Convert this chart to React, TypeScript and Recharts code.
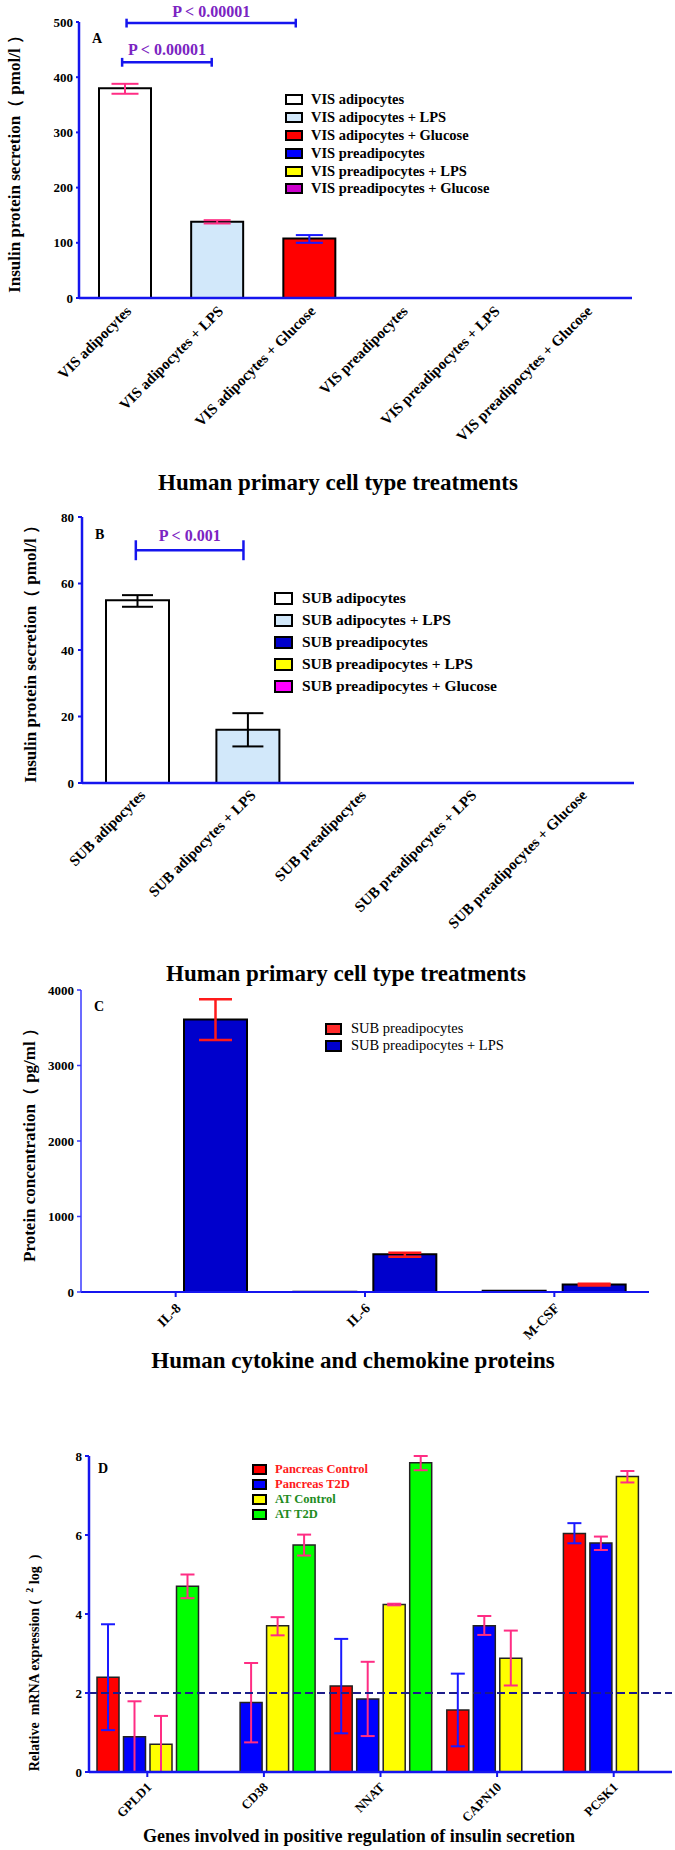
import React from 'react'
import { BarChart, Bar, XAxis, YAxis, Cell, ErrorBar, ReferenceLine, Legend } from 'recharts'

const SERIF = "'Liberation Serif', 'Times New Roman', Times, serif"
const AXIS_BLUE = '#1515ee'
const PINK = '#ff2d84'
const ERR_BLUE = '#1a1aff'
const PURPLE = '#7b24c2'

// ---- A: visceral cells, insulin secretion (pmol/l)
const visGroups = [
  'VIS adipocytes',
  'VIS adipocytes + LPS',
  'VIS adipocytes + Glucose',
  'VIS preadipocytes',
  'VIS preadipocytes + LPS',
  'VIS preadipocytes + Glucose',
]
const visInsulin = [380, 138, 108, 0, 0, 0]
const visErrPink = [[10, 8], [3, 3], null, null, null, null]
const visErrBlue = [null, null, [8, 6], null, null, null]
const visFills = ['#ffffff', '#d2e8fa', '#ff0000', '#0000ff', '#ffff00', '#cc00cc']
const visTicks = [0, 100, 200, 300, 400, 500]
// brackets in band units (category i spans i..i+1)
const visBrackets = [
  { from: 0.43, to: 1.96, y: 498, text: 'P < 0.00001' },
  { from: 0.39, to: 1.2, y: 427, text: 'P < 0.00001' },
]

// ---- B: subcutaneous cells, insulin secretion (pmol/l)
const subGroups = [
  'SUB adipocytes',
  'SUB adipocytes + LPS',
  'SUB preadipocytes',
  'SUB preadipocytes + LPS',
  'SUB preadipocytes + Glucose',
]
const subInsulin = [55, 16, 0, 0, 0]
const subErr = [[2, 1.5], [5, 5], null, null, null]
const subFills = ['#ffffff', '#d2e8fa', '#0000cc', '#ffff00', '#ff00ff']
const subTicks = [0, 20, 40, 60, 80]
const subBrackets = [{ from: 0.39, to: 1.17, y: 70, text: 'P < 0.001' }]

// ---- C: cytokines (pg/ml)
const cytokines = ['IL-8', 'IL-6', 'M-CSF']
const subPre = [0, 4, 15]
const subPreLps = [3610, 500, 100]
const subPreLpsErr = [[272, 266], [32, 21], [15, 8]]
const cytTicks = [0, 1000, 2000, 3000, 4000]

// ---- D: gene expression (log2)
const genes = ['GPLD1', 'CD38', 'NNAT', 'CAPN10', 'PCSK1']
const pancControl = [2.4, 0, 2.18, 1.57, 6.04]
const pancControlErr = [[1.34, 1.34], null, [1.2, 1.19], [0.92, 0.92], [0.25, 0.26]]
const pancT2D = [0.89, 1.76, 1.85, 3.7, 5.8]
const pancT2DErr = [[0.89, 0.9], [1.01, 1.0], [0.94, 0.94], [0.23, 0.25], [0.18, 0.16]]
const atControl = [0.7, 3.7, 4.24, 2.88, 7.48]
const atControlErr = [[0.7, 0.72], [0.24, 0.22], [0.02, 0.02], [0.69, 0.7], [0.15, 0.14]]
const atT2D = [4.7, 5.75, 7.83, 0, 0]
const atT2DErr = [[0.3, 0.3], [0.27, 0.26], [0.19, 0.17], null, null]
const geneTicks = [0, 2, 4, 6, 8]
const foldLine = 2

const dataA = visGroups.map((name, i) => ({ name, value: visInsulin[i], errPink: visErrPink[i], errBlue: visErrBlue[i] }))
const dataB = subGroups.map((name, i) => ({ name, value: subInsulin[i], err: subErr[i] }))
const dataC = cytokines.map((name, i) => ({ name, pre: subPre[i], lps: subPreLps[i], lpsErr: subPreLpsErr[i] }))
const dataD = genes.map((name, i) => ({
  name,
  pc: pancControl[i], pcErr: pancControlErr[i],
  pt: pancT2D[i], ptErr: pancT2DErr[i],
  ac: atControl[i], acErr: atControlErr[i],
  at: atT2D[i], atErr: atT2DErr[i],
}))

const SlantTick = (props: any) => {
  const { x, y, payload, shiftX = 0, shiftY = 0, size = 14 } = props
  const tx = x + shiftX
  const ty = y + shiftY
  return (
    <text x={tx} y={ty} transform={`rotate(-45 ${tx} ${ty})`} textAnchor="end"
      fontFamily={SERIF} fontWeight="bold" fontSize={size} fill="#000">
      {payload.value}
    </text>
  )
}

const PanelText = (props: any) => {
  const { letter, letterAt, yText, yAt, yFont, heading, headAt, headFont } = props
  return (
    <g fontFamily={SERIF} fontWeight="bold" fill="#000">
      <text x={letterAt[0]} y={letterAt[1]} fontSize={14}>{letter}</text>
      <text x={yAt[0]} y={yAt[1]} fontSize={yFont} textAnchor="middle"
        transform={`rotate(-90 ${yAt[0]} ${yAt[1]})`} style={{ whiteSpace: 'pre' }}>{yText}</text>
      <text x={headAt[0]} y={headAt[1]} fontSize={headFont} textAnchor="middle">{heading}</text>
    </g>
  )
}

const BoxLegend = ({ items, fontSize, rowH, boxW, boxH, gap, weight }: any) => (
  <div style={{ fontFamily: SERIF, fontSize, fontWeight: weight }}>
    {items.map((it: any) => (
      <div key={it.label} style={{ display: 'flex', alignItems: 'center', height: rowH, whiteSpace: 'nowrap', color: it.color || '#000' }}>
        <span style={{ display: 'inline-block', width: boxW, height: boxH, background: it.fill, border: '2px solid #000', boxSizing: 'border-box', marginRight: gap, flex: 'none' }} />
        <span>{it.label}</span>
      </div>
    ))}
  </div>
)

const tickStyle = { fontSize: 13, fontWeight: 'bold', fill: '#000', fontFamily: SERIF }

const bracketLines = (b: any, tick: number, offset: number) => [
  <ReferenceLine key={b.text + b.y + 'h'} xAxisId="pos" ifOverflow="visible"
    segment={[{ x: b.from, y: b.y }, { x: b.to, y: b.y }]} stroke={AXIS_BLUE} strokeWidth={2.5}
    label={{ value: b.text, position: 'top', offset, fill: PURPLE, fontSize: 16, fontWeight: 'bold', fontFamily: SERIF }} />,
  <ReferenceLine key={b.text + b.y + 'l'} xAxisId="pos" ifOverflow="visible"
    segment={[{ x: b.from, y: b.y - tick }, { x: b.from, y: b.y + tick }]} stroke={AXIS_BLUE} strokeWidth={2.5} />,
  <ReferenceLine key={b.text + b.y + 'r'} xAxisId="pos" ifOverflow="visible"
    segment={[{ x: b.to, y: b.y - tick }, { x: b.to, y: b.y + tick }]} stroke={AXIS_BLUE} strokeWidth={2.5} />,
]

const PanelA = () => (
  <BarChart width={675} height={500} data={dataA} margin={{ top: 22, right: 43, left: 0, bottom: 0 }}>
    <XAxis dataKey="name" interval={0} height={202} tickSize={0} tickMargin={0} tickLine={false}
      axisLine={{ stroke: AXIS_BLUE, strokeWidth: 2.5 }} tick={<SlantTick shiftX={7} shiftY={14} size={15} />} />
    <XAxis xAxisId="pos" type="number" domain={[0, 6]} hide allowDataOverflow />
    <YAxis width={79} domain={[0, 500]} ticks={visTicks} allowDataOverflow tickSize={3} tickMargin={3}
      axisLine={{ stroke: AXIS_BLUE, strokeWidth: 2.5 }} tickLine={{ stroke: AXIS_BLUE, strokeWidth: 2 }} tick={tickStyle}
      label={<PanelText letter="A" letterAt={[92, 43]} yText="Insulin protein secretion（ pmol/l ）" yAt={[20, 160]} yFont={17}
        heading="Human primary cell type treatments" headAt={[338, 490]} headFont={23} />} />
    <Bar dataKey="value" barSize={52} stroke="#000" strokeWidth={2} isAnimationActive={false}>
      {visFills.map((f, i) => <Cell key={i} fill={f} />)}
      <ErrorBar dataKey="errPink" width={13.5} stroke={PINK} strokeWidth={2} />
      <ErrorBar dataKey="errBlue" width={13.5} stroke={ERR_BLUE} strokeWidth={2} />
    </Bar>
    {bracketLines(visBrackets[0], 8, 6)}
    {bracketLines(visBrackets[1], 8, 7.5)}
    <Legend layout="vertical" align="center" verticalAlign="middle" wrapperStyle={{ left: 285, top: 91, width: 320 }}
      content={() => <BoxLegend items={visGroups.map((g, i) => ({ label: g, fill: visFills[i] }))}
        fontSize={14.5} rowH={17.8} boxW={18} boxH={11} gap={8} weight="bold" />} />
  </BarChart>
)

const PanelB = () => (
  <BarChart width={675} height={490} data={dataB} margin={{ top: 17, right: 41, left: 0, bottom: 0 }}>
    <XAxis dataKey="name" interval={0} height={207} tickSize={0} tickMargin={0} tickLine={false}
      axisLine={{ stroke: AXIS_BLUE, strokeWidth: 2.5 }} tick={<SlantTick shiftX={9} shiftY={13} size={15} />} />
    <XAxis xAxisId="pos" type="number" domain={[0, 5]} hide allowDataOverflow />
    <YAxis width={82} domain={[0, 80]} ticks={subTicks} allowDataOverflow tickSize={4} tickMargin={4}
      axisLine={{ stroke: AXIS_BLUE, strokeWidth: 2.5 }} tickLine={{ stroke: AXIS_BLUE, strokeWidth: 2 }} tick={tickStyle}
      label={<PanelText letter="B" letterAt={[95, 39]} yText="Insulin protein secretion（ pmol/l ）" yAt={[36, 150]} yFont={17}
        heading="Human primary cell type treatments" headAt={[346, 481]} headFont={23} />} />
    <Bar dataKey="value" barSize={63} stroke="#000" strokeWidth={2} isAnimationActive={false}>
      {subFills.map((f, i) => <Cell key={i} fill={f} />)}
      <ErrorBar dataKey="err" width={15.5} stroke="#000" strokeWidth={2} />
    </Bar>
    {bracketLines(subBrackets[0], 3, 9.5)}
    <Legend layout="vertical" align="center" verticalAlign="middle" wrapperStyle={{ left: 274, top: 87, width: 320 }}
      content={() => <BoxLegend items={subGroups.map((g, i) => ({ label: g, fill: subFills[i] }))}
        fontSize={15.5} rowH={22} boxW={19} boxH={13} gap={9} weight="bold" />} />
  </BarChart>
)

const PanelC = () => (
  <BarChart width={675} height={400} data={dataC} margin={{ top: 10, right: 26, left: 0, bottom: 0 }} barGap={17}>
    <XAxis dataKey="name" interval={0} height={88} tickSize={5} tickMargin={0}
      axisLine={{ stroke: AXIS_BLUE, strokeWidth: 2 }} tickLine={{ stroke: AXIS_BLUE, strokeWidth: 2 }}
      tick={<SlantTick shiftX={6} shiftY={12} size={14} />} />
    <YAxis width={81} domain={[0, 4000]} ticks={cytTicks} allowDataOverflow tickSize={4} tickMargin={3}
      axisLine={{ stroke: '#3a3aff', strokeWidth: 1.5 }} tickLine={{ stroke: '#3a3aff', strokeWidth: 1.5 }} tick={tickStyle}
      label={<PanelText letter="C" letterAt={[94, 31]} yText="Protein concentration（ pg/ml ）" yAt={[35, 161]} yFont={17}
        heading="Human cytokine and chemokine proteins" headAt={[353, 388]} headFont={23} />} />
    <Bar dataKey="pre" barSize={63} fill="#ff2a2a" stroke="#000" strokeWidth={2} isAnimationActive={false} />
    <Bar dataKey="lps" barSize={63} fill="#0000cc" stroke="#000" strokeWidth={2} isAnimationActive={false}>
      <ErrorBar dataKey="lpsErr" width={16.5} stroke="#ff1a1a" strokeWidth={2.5} />
    </Bar>
    <Legend layout="vertical" align="center" verticalAlign="middle" wrapperStyle={{ left: 325, top: 40, width: 300 }}
      content={() => <BoxLegend items={[{ label: 'SUB preadipocytes', fill: '#ff2a2a' }, { label: 'SUB preadipocytes + LPS', fill: '#0000cc' }]}
        fontSize={14.5} rowH={17} boxW={17} boxH={12} gap={9} weight="normal" />} />
  </BarChart>
)

const dYLabel = (
  <>
    <tspan>{'Relative  mRNA expression (  '}</tspan>
    <tspan fontSize={10} dy={-6}>2</tspan>
    <tspan dy={6}>{' log  )'}</tspan>
  </>
)

const dSeries = [
  { key: 'pc', err: 'pcErr', label: 'Pancreas Control', fill: '#ff0000', errColor: ERR_BLUE, text: '#ff1a1a' },
  { key: 'pt', err: 'ptErr', label: 'Pancreas T2D', fill: '#0000ff', errColor: PINK, text: '#ff1a1a' },
  { key: 'ac', err: 'acErr', label: 'AT Control', fill: '#ffff00', errColor: PINK, text: '#1e8c1e' },
  { key: 'at', err: 'atErr', label: 'AT T2D', fill: '#00ff00', errColor: PINK, text: '#1e8c1e' },
]

const PanelD = () => (
  <BarChart width={675} height={470} data={dataD} margin={{ top: 76, right: 3, left: 0, bottom: 0 }} barGap={4.5}>
    <XAxis dataKey="name" interval={0} height={78} tickSize={5} tickMargin={0}
      axisLine={{ stroke: AXIS_BLUE, strokeWidth: 2.5 }} tickLine={{ stroke: AXIS_BLUE, strokeWidth: 2 }}
      tick={<SlantTick shiftX={5} shiftY={11} size={13} />} />
    <YAxis width={89} domain={[0, 8]} ticks={geneTicks} allowDataOverflow tickSize={4} tickMargin={3}
      axisLine={{ stroke: AXIS_BLUE, strokeWidth: 2.5 }} tickLine={{ stroke: AXIS_BLUE, strokeWidth: 2 }} tick={tickStyle}
      label={<PanelText letter="D" letterAt={[98, 93]} yText={dYLabel} yAt={[39, 283]} yFont={14}
        heading="Genes involved in positive regulation of insulin secretion" headAt={[359, 462]} headFont={18} />} />
    {dSeries.map((s) => (
      <Bar key={s.key} dataKey={s.key} barSize={22} fill={s.fill} stroke="#222" strokeWidth={1.5} isAnimationActive={false}>
        <ErrorBar dataKey={s.err} width={7} stroke={s.errColor} strokeWidth={2} />
      </Bar>
    ))}
    <ReferenceLine y={foldLine} stroke="#1c1c8c" strokeWidth={2} strokeDasharray="8 4" />
    <Legend layout="vertical" align="center" verticalAlign="middle" wrapperStyle={{ left: 252, top: 82, width: 220 }}
      content={() => <BoxLegend items={dSeries.map((s) => ({ label: s.label, fill: s.fill, color: s.text }))}
        fontSize={12.5} rowH={15} boxW={15} boxH={11} gap={8} weight="bold" />} />
  </BarChart>
)

export default function App() {
  return (
    <div style={{ position: 'absolute', left: 0, top: 0, width: 675, height: 1850, background: '#fff', overflow: 'hidden' }}>
      <div style={{ position: 'absolute', left: 0, top: 0 }}><PanelA /></div>
      <div style={{ position: 'absolute', left: 0, top: 500 }}><PanelB /></div>
      <div style={{ position: 'absolute', left: 0, top: 980 }}><PanelC /></div>
      <div style={{ position: 'absolute', left: 0, top: 1380 }}><PanelD /></div>
    </div>
  )
}
